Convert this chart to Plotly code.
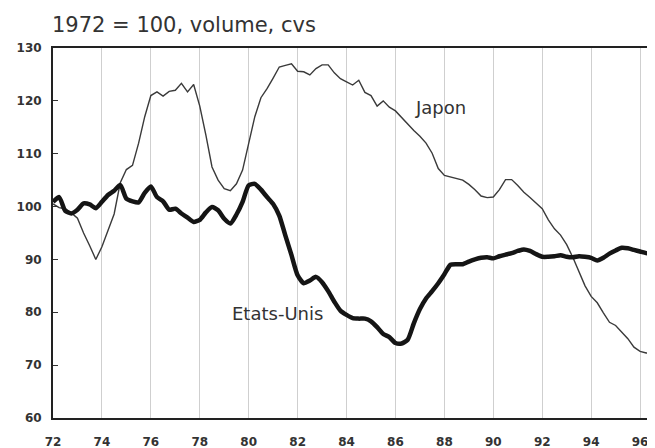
import plotly.graph_objects as go

n_quarters = 99
years = [72 + 0.25 * i for i in range(n_quarters)]

japon = [
    100.5, 99.8, 99.6, 98.8,
    97.8, 95.0, 92.6, 90.0,
    92.4, 95.5, 98.6, 104.5,
    107.0, 107.8, 112.0, 117.0,
    121.0, 121.7, 120.9, 121.8,
    122.0, 123.3, 121.7, 123.1,
    119.0, 113.5, 107.5, 105.0,
    103.4, 103.0, 104.3, 106.9,
    112.0, 117.0, 120.6, 122.3,
    124.3, 126.4, 126.7, 127.0,
    125.6, 125.5, 124.9, 126.1,
    126.8, 126.8, 125.3, 124.2,
    123.6, 123.0, 123.9, 121.6,
    121.0, 119.0, 120.0, 118.8,
    118.1, 116.8, 115.6, 114.4,
    113.3, 112.0, 110.1, 107.2,
    105.9, 105.6, 105.3, 105.0,
    104.2, 103.2, 102.0, 101.7,
    101.8, 103.2, 105.1, 105.1,
    104.0, 102.7, 101.7, 100.6,
    99.6, 97.5, 95.8, 94.6,
    92.8, 90.4, 87.7, 85.0,
    83.0, 81.8, 79.9, 78.1,
    77.5, 76.3, 75.0, 73.4,
    72.6, 72.3, 72.2,
]

etats_unis = [
    100.9, 101.8, 99.2, 98.7,
    99.4, 100.6, 100.4, 99.7,
    100.9, 102.2, 103.0, 104.1,
    101.5, 101.0, 100.8, 102.6,
    103.8, 101.8, 101.0, 99.4,
    99.6, 98.7, 97.9, 97.1,
    97.5, 98.9, 99.9, 99.3,
    97.7, 96.8, 98.5, 100.9,
    104.0, 104.3, 103.2, 101.8,
    100.5, 98.3, 94.5, 90.8,
    87.0, 85.5, 86.0, 86.7,
    85.7, 84.0, 82.0, 80.3,
    79.5, 78.9, 78.8, 78.8,
    78.3, 77.2, 75.9, 75.3,
    74.2, 74.1, 74.8, 77.9,
    80.6, 82.6, 84.0, 85.5,
    87.2, 89.0, 89.1, 89.1,
    89.6, 90.0, 90.3, 90.4,
    90.2, 90.6, 90.9, 91.2,
    91.6, 91.9, 91.6, 91.0,
    90.5, 90.5, 90.6, 90.8,
    90.5, 90.4, 90.6, 90.5,
    90.3, 89.8, 90.3, 91.1,
    91.7, 92.2, 92.1, 91.8,
    91.5, 91.2, 91.0,
]

x_tick_vals = list(range(72, 97, 2))
x_tick_text = [str(v) for v in x_tick_vals]
y_tick_vals = [60, 70, 80, 90, 100, 110, 120, 130]

fig = go.Figure()
fig.add_trace(go.Scatter(
    x=years, y=japon, mode="lines", name="Japon",
    line=dict(color="#3a3a3a", width=1.4),
))
fig.add_trace(go.Scatter(
    x=years, y=etats_unis, mode="lines", name="Etats-Unis",
    line=dict(color="#151515", width=4.5, shape="spline", smoothing=0.6),
))

fig.add_annotation(x=81.16, y=79.7, text="Etats-Unis", showarrow=False,
                   font=dict(family="DejaVu Sans", size=18, color="#333"))
fig.add_annotation(x=87.84, y=118.65, text="Japon", showarrow=False,
                   font=dict(family="DejaVu Sans", size=18, color="#333"))
fig.add_annotation(xref="paper", yref="paper", x=0, y=1.0, xshift=-3, yshift=23,
                   xanchor="left", yanchor="middle",
                   text="1972 = 100, volume, cvs", showarrow=False,
                   font=dict(family="DejaVu Sans", size=21, color="#333"))

fig.update_layout(
    width=647, height=440,
    margin=dict(l=45, r=0, t=40, b=30),
    paper_bgcolor="white", plot_bgcolor="white",
    showlegend=False,
    xaxis=dict(
        range=[72, 96.61], tickvals=x_tick_vals, ticktext=x_tick_text,
        showgrid=True, gridcolor="#cfcfcf", gridwidth=1,
        showline=True, linecolor="#222", linewidth=2, mirror=True,
        ticks="outside", ticklen=12, tickcolor="rgba(0,0,0,0)",
        automargin=False,
        tickfont=dict(family="DejaVu Sans", size=12, color="#333", weight="bold"),
        zeroline=False,
    ),
    yaxis=dict(
        range=[60, 130], tickvals=y_tick_vals,
        showgrid=False,
        showline=True, linecolor="#222", linewidth=2,
        ticks="inside", ticklen=5, tickcolor="#333", tickwidth=1,
        ticklabelstandoff=7, automargin=False,
        tickfont=dict(family="DejaVu Sans", size=12, color="#333", weight="bold"),
        zeroline=False,
    ),
)

fig.write_html("out.html")
